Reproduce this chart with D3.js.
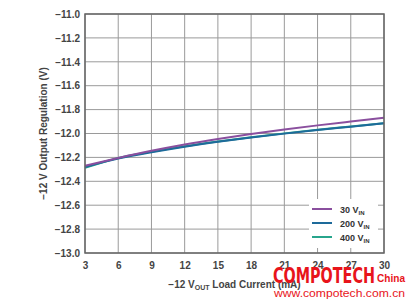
<!DOCTYPE html>
<html><head><meta charset="utf-8">
<script src="https://cdn.jsdelivr.net/npm/d3@7"></script>
<style>body{margin:0;background:#fff}svg{display:block}</style>
</head><body>
<script>
const xTicks = [3,6,9,12,15,18,21,24,27,30];
const yTicks = [-11.0,-11.2,-11.4,-11.6,-11.8,-12.0,-12.2,-12.4,-12.6,-12.8,-13.0];
const loadCurrent = [3,6,9,12,15,18,21,24,27,30];
const v30  = [-12.27,-12.205,-12.145,-12.092,-12.046,-12.005,-11.967,-11.932,-11.90,-11.869];
const v200 = [-12.28,-12.21,-12.158,-12.111,-12.07,-12.034,-12.001,-11.971,-11.943,-11.915];
const v400 = [-12.288,-12.205,-12.153,-12.107,-12.067,-12.031,-11.999,-11.969,-11.941,-11.913];
const seriesNames = ["30 V", "200 V", "400 V"];
const colors = ["#8a4f9e", "#1d6a9a", "#27a58c"];

const W=412,H=302, m={l:85,r:28,t:14,b:49};
const svg=d3.select("body").append("svg").attr("width",W).attr("height",H);
const x=d3.scaleLinear().domain([3,30]).range([m.l,W-m.r]);
const y=d3.scaleLinear().domain([-13,-11]).range([H-m.b,m.t]);
const font="Liberation Sans, Arial, sans-serif";

// grid
svg.append("g").selectAll("line").data(xTicks).join("line")
 .attr("x1",d=>x(d)).attr("x2",d=>x(d)).attr("y1",m.t).attr("y2",H-m.b)
 .attr("stroke","#9a9a9a").attr("stroke-width",1);
svg.append("g").selectAll("line").data(yTicks).join("line")
 .attr("y1",d=>y(d)).attr("y2",d=>y(d)).attr("x1",m.l).attr("x2",W-m.r)
 .attr("stroke","#9a9a9a").attr("stroke-width",1);

// lines
const line=d3.line().x((d,i)=>x(loadCurrent[i])).y(d=>y(d)).curve(d3.curveMonotoneX);
[v400,v200,v30].forEach((s,k)=>{
  const idx=2-k;
  svg.append("path").datum(s).attr("d",line).attr("fill","none")
   .attr("stroke",colors[idx]).attr("stroke-width",2);
});

// legend
const lg=svg.append("g");
lg.append("rect").attr("x",309).attr("y",199).attr("width",69).attr("height",49).attr("fill","#fff");
seriesNames.forEach((n,i)=>{
  const yy=209+i*14;
  lg.append("line").attr("x1",312).attr("x2",332).attr("y1",yy).attr("y2",yy)
   .attr("stroke",colors[i]).attr("stroke-width",2);
  const t=lg.append("text").attr("x",340).attr("y",yy+3.5).attr("font-family",font)
   .attr("font-size",9).attr("font-weight","bold").attr("fill","#333");
  t.append("tspan").text(n);
  t.append("tspan").attr("font-size",6).attr("dy",2).text("IN");
});

// frame
svg.append("rect").attr("x",m.l).attr("y",m.t).attr("width",W-m.r-m.l).attr("height",H-m.b-m.t)
 .attr("fill","none").attr("stroke","#666").attr("stroke-width",1.5);

// axes labels
const ax=d3.axisBottom(x).tickValues(xTicks).tickSize(0).tickPadding(9);
const gx=svg.append("g").attr("transform",`translate(0,${H-m.b})`).call(ax);
gx.select(".domain").remove();
gx.selectAll("text").attr("font-family",font).attr("font-size",10).attr("font-weight","bold").attr("fill","#444");
const ay=d3.axisLeft(y).tickValues(yTicks).tickSize(0).tickPadding(5).tickFormat(d=>"\u2212"+Math.abs(d).toFixed(1));
const gy=svg.append("g").attr("transform",`translate(${m.l},0)`).call(ay);
gy.select(".domain").remove();
gy.selectAll("text").attr("font-family",font).attr("font-size",10).attr("font-weight","bold").attr("fill","#444");

// titles
const xt=svg.append("text").attr("x",(m.l+W-m.r)/2).attr("y",288).attr("text-anchor","middle")
 .attr("font-family",font).attr("font-size",10).attr("font-weight","bold").attr("fill","#444");
xt.append("tspan").text("\u221212 V");
xt.append("tspan").attr("font-size",7).attr("dy",2).text("OUT");
xt.append("tspan").attr("dy",-2).text(" Load Current (mA)");
svg.append("text").attr("transform",`translate(47,${(m.t+H-m.b)/2}) rotate(-90)`).attr("text-anchor","middle")
 .attr("font-family",font).attr("font-size",10).attr("font-weight","bold").attr("fill","#444")
 .text("\u221212 V Output Regulation (V)");

// watermark
svg.append("text").attr("x",273).attr("y",283).attr("font-family","DejaVu Sans Condensed, Liberation Sans Narrow, sans-serif")
 .attr("font-size",22).attr("font-weight","bold").attr("fill","#e8141b").attr("textLength",102).attr("lengthAdjust","spacingAndGlyphs").text("COMPOTECH");
svg.append("text").attr("x",377).attr("y",282).attr("font-family",font)
 .attr("font-size",10).attr("font-weight","bold").attr("fill","#e8141b").attr("textLength",28).attr("lengthAdjust","spacingAndGlyphs").text("China");
svg.append("text").attr("x",274).attr("y",297).attr("font-family",font)
 .attr("font-size",10).attr("fill","#e8141b").attr("textLength",131).attr("lengthAdjust","spacingAndGlyphs").text("www.compotech.com.cn");
</script>
</body></html>
